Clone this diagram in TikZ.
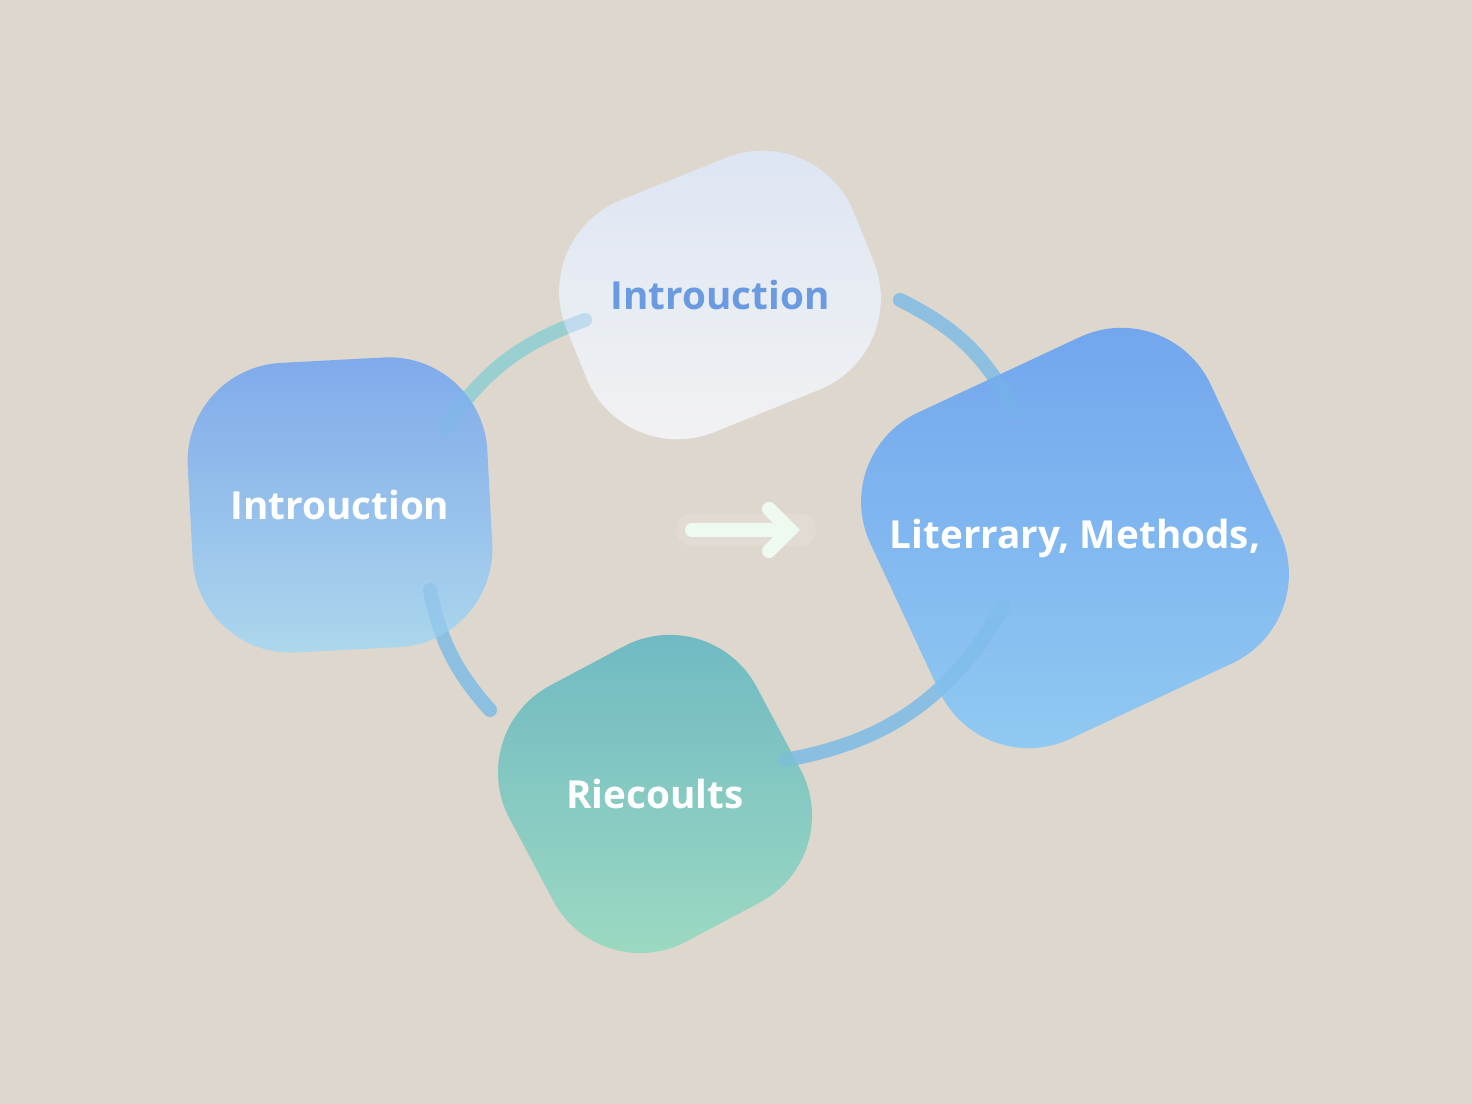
\documentclass[tikz,border=0pt]{standalone}
\usepackage{fontspec}
\setmainfont{Open Sans}
\usetikzlibrary{arrows.meta}
\definecolor{bgcol}{HTML}{DDD7CE}
\definecolor{topA}{HTML}{DCE6F7}
\definecolor{topB}{HTML}{F6F6F7}
\definecolor{leftA}{HTML}{78A6EE}
\definecolor{leftB}{HTML}{A9D8EF}
\definecolor{rightA}{HTML}{68A0F0}
\definecolor{rightB}{HTML}{8DCBF6}
\definecolor{botA}{HTML}{62B4C3}
\definecolor{botB}{HTML}{9CDDC0}
\definecolor{txtblue}{HTML}{6A9BE0}
\definecolor{arcblue}{HTML}{7FBCE6}
\definecolor{arcgreen}{HTML}{9ADCC6}
\definecolor{arrowcol}{HTML}{EEF9F0}
\begin{document}
\begin{tikzpicture}[thick,
    blob/.style={rectangle, rounded corners=28pt, fill opacity=0.92, text opacity=1,
                 font=\fontsize{11}{13}\selectfont\bfseries, text=white},
    ring/.style={line width=4pt, line cap=round, opacity=0.75}]
        % Background
        \fill[bgcol] (0,0) rectangle (14.72,11.04);
        \useasboundingbox (0,0) rectangle (14.72,11.04);

        % Arc ends
        \coordinate (A1) at (4.45,6.76);
        \coordinate (A2) at (5.85,7.84);
        \coordinate (B1) at (9.00,8.04);
        \coordinate (B2) at (10.15,6.92);
        \coordinate (C1) at (4.30,5.14);
        \coordinate (C2) at (4.90,3.94);
        \coordinate (D1) at (7.85,3.44);
        \coordinate (D2) at (10.03,4.97);

        % Ring arcs (behind the blobs)
        \draw[ring, arcgreen] (A1) to[bend left=18] (A2);
        \draw[ring, arcblue] (B1) to[bend left=18] (B2);
        \draw[ring, arcblue] (C1) to[bend right=15] (C2);
        \draw[ring, arcblue] (D1) to[bend right=25] (D2);

        % Blobs
        \node[blob, minimum width=3.1cm, minimum height=2.5cm, rotate=22,
              top color=topA, bottom color=topB, text=txtblue] (Intro) at (7.20,8.09)
              {\rotatebox{-22}{Introuction}};
        \node[blob, minimum width=3.0cm, minimum height=2.9cm, rotate=3,
              top color=leftA, bottom color=leftB] (Left) at (3.40,5.99)
              {\rotatebox{-3}{Introuction}};
        \node[blob, minimum width=3.5cm, minimum height=3.6cm, rotate=25,
              top color=rightA, bottom color=rightB] (Lit) at (10.75,5.66)
              {\rotatebox{-25}{Literrary, Methods,}};
        \node[blob, minimum width=2.8cm, minimum height=2.9cm, rotate=28,
              top color=botA, bottom color=botB] (Res) at (6.55,3.10)
              {\rotatebox{-28}{Riecoults}};

        % Arcs crossing over blobs (faint)
        \draw[ring, arcblue, opacity=0.35] (A1) to[bend left=18] (A2);
        \draw[ring, arcblue, opacity=0.35] (B1) to[bend left=18] (B2);
        \draw[ring, arcblue, opacity=0.35] (C1) to[bend right=15] (C2);
        \draw[ring, arcblue, opacity=0.45] (D1) to[bend right=25] (D2);

        % Centre arrow
        \coordinate (P1) at (6.92,5.74);
        \coordinate (P2) at (8.00,5.74);
        \draw[line width=9pt, white, opacity=0.12, line cap=round] (P1) -- (P2);
        \draw[line width=4pt, arrowcol, line cap=round,
              -{Straight Barb[length=6pt, width=12pt, line cap=round]}] (P1) -- (P2);
    \end{tikzpicture}
\end{document}
